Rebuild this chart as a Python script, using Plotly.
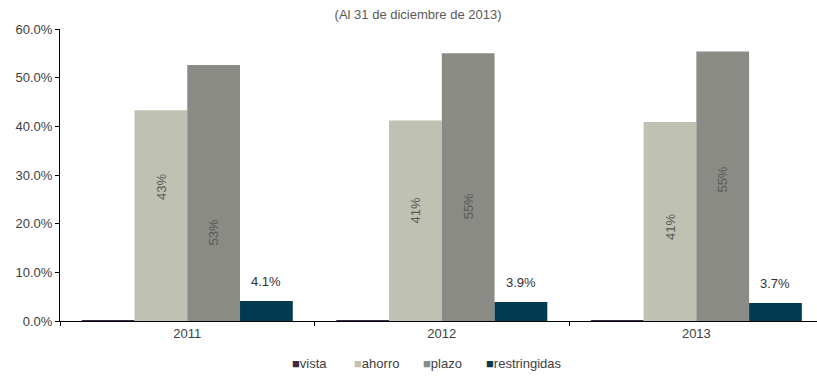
import plotly.graph_objects as go

# Distribution of deposits by type, 2011-2013 (percent of total)
years = ["2011", "2012", "2013"]
vista = [0.1, 0.1, 0.05]
ahorro = [43.3, 41.2, 40.9]
plazo = [52.6, 55.0, 55.4]
restringidas = [4.1, 3.9, 3.7]

series_names = ["vista", "ahorro", "plazo", "restringidas"]
series_values = [vista, ahorro, plazo, restringidas]
series_colors = ["#3d2a47", "#bfc1b2", "#8a8b85", "#023b4f"]

# vertical placement (in axis units) of the rotated labels inside the bars
ahorro_label_y = [27.5, 22.8, 19.3]
plazo_label_y = [18.1, 23.6, 29.0]

FONT = "Liberation Sans, Arial, sans-serif"
BARGAP = 0.171

fig = go.Figure()
for name, vals, col in zip(series_names, series_values, series_colors):
    fig.add_trace(go.Bar(
        x=years, y=vals, name=name, marker=dict(color=col, line=dict(width=0)),
        showlegend=False, hoverinfo="x+y+name",
    ))

# bar offsets within each group (category units)
w = (1 - BARGAP) / 4
offsets = [-1.5 * w, -0.5 * w, 0.5 * w, 1.5 * w]

annotations = []
for i in range(len(years)):
    annotations.append(dict(
        x=i + offsets[1], y=ahorro_label_y[i], xref="x", yref="y",
        text=f"{ahorro[i]:.0f}%", textangle=-90, showarrow=False,
        font=dict(family=FONT, size=13, color="#595959"),
    ))
    annotations.append(dict(
        x=i + offsets[2], y=plazo_label_y[i], xref="x", yref="y",
        text=f"{plazo[i]:.0f}%", textangle=-90, showarrow=False,
        font=dict(family=FONT, size=13, color="#595959"),
    ))
    annotations.append(dict(
        x=i + offsets[3], y=restringidas[i], xref="x", yref="y",
        text=f"{restringidas[i]:.1f}%", showarrow=False, yanchor="bottom", yshift=10,
        font=dict(family=FONT, size=13, color="#303030"),
    ))

# legend row
legend_x = [0.304, 0.386, 0.477, 0.560]
for name, col, lx in zip(series_names, series_colors, legend_x):
    annotations.append(dict(
        x=lx, y=-0.147, xref="paper", yref="paper", xanchor="left", yanchor="middle",
        text=f"<span style='color:{col}'>■</span>{name}", showarrow=False,
        font=dict(family=FONT, size=13, color="#404040"),
    ))

fig.update_layout(
    width=817, height=377,
    margin=dict(l=60, r=0, t=29, b=56),
    paper_bgcolor="white", plot_bgcolor="white",
    barmode="group", bargap=BARGAP, bargroupgap=0,
    font=dict(family=FONT, size=13, color="#595959"),
    title=dict(
        text="(Al 31 de diciembre de 2013)", x=0.473, xref="paper",
        y=1 - 14 / 377, yref="container", xanchor="center", yanchor="middle",
        font=dict(family=FONT, size=13, color="#595959"),
    ),
    annotations=annotations,
    showlegend=False,
)
fig.update_xaxes(
    type="category", range=[-0.5, 2.474], showline=True, linecolor="#000000", linewidth=1,
    ticks="outside", ticklen=4, tickcolor="#000000", tickson="boundaries",
    showgrid=False, zeroline=False,
    tickfont=dict(family=FONT, size=13, color="#404040"),
)
fig.update_yaxes(
    range=[0, 60], dtick=10, tickformat=".1f", ticksuffix="%",
    showline=True, linecolor="#000000", linewidth=1,
    ticks="outside", ticklen=4, tickcolor="#000000",
    showgrid=False, zeroline=False,
    tickfont=dict(family=FONT, size=13, color="#404040"),
)

fig.write_html("out.html")
